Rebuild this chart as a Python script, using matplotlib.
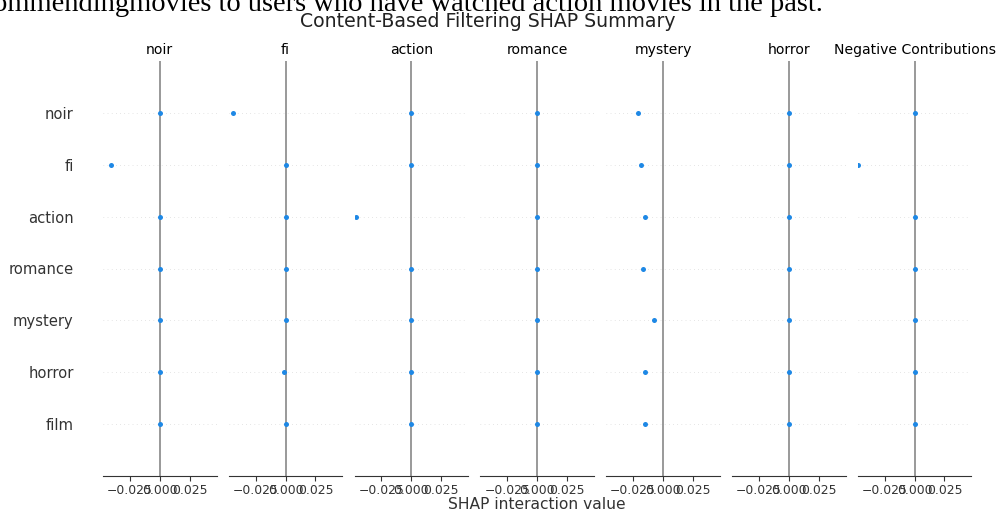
import matplotlib
matplotlib.use("Agg")
import matplotlib.pyplot as plt
import numpy as np

features = ["noir", "fi", "action", "romance", "mystery", "horror", "film"]  # top to bottom
titles = ["noir", "fi", "action", "romance", "mystery", "horror", "Negative Contributions"]

# SHAP interaction values per column (rows in the order of `features`)
col_noir = [0.0, -0.0405, 0.0, 0.0, 0.0, 0.0, 0.0]
col_fi = [-0.0438, 0.0, 0.0, 0.0, 0.0, -0.0014, 0.0]
col_action = [0.0, 0.0, -0.0461, 0.0, 0.0, 0.0, 0.0]
col_romance = [0.0, 0.0, 0.0, 0.0, 0.0, 0.0, 0.0]
col_mystery = [-0.0206, -0.0183, -0.0153, -0.0163, -0.0075, -0.0153, -0.0148]
col_horror = [0.0, 0.0, 0.0, 0.0, 0.0, 0.0, 0.0]
col_negative = [0.0, -0.0475, 0.0, 0.0, 0.0, 0.0, 0.0]
columns = [col_noir, col_fi, col_action, col_romance, col_mystery, col_horror, col_negative]

xlim_v = 0.0475
xticks = [-0.025, 0.0, 0.025]

W, H = 997, 513
fig = plt.figure(figsize=(W / 100, H / 100), dpi=100)

axis_color = "#333333"
blue = "#1E88E5"
n = len(features)
ypos = np.arange(n)[::-1]  # noir at top

left0 = 103 / W
step = 125.8 / W
width = 113.5 / W
bottom = (H - 476) / H
height = (476 - 61) / H

for i, (title, vals) in enumerate(zip(titles, columns)):
    ax = fig.add_axes([left0 + i * step, bottom, width, height])
    for y in ypos:
        ax.axhline(y=y, color="#cccccc", lw=0.5, dashes=(1, 5), zorder=-1)
    ax.axvline(x=0, color="#999999", lw=1.4, zorder=-1)
    ax.scatter(vals, ypos, color=blue, s=13, linewidth=0, zorder=3)
    ax.set_xlim(-xlim_v, xlim_v)
    ax.set_ylim(-1, n)
    ax.set_xticks(xticks)
    ax.set_xticklabels(["\u22120.025", "0.000", "0.025"])
    for s in ["top", "right", "left"]:
        ax.spines[s].set_visible(False)
    ax.spines["bottom"].set_color(axis_color)
    ax.spines["bottom"].set_linewidth(0.8)
    ax.tick_params("x", labelsize=8.9, color=axis_color, labelcolor=axis_color,
                   length=3.5, width=0.8, pad=2.5)
    if i == 0:
        ax.set_yticks(ypos)
        ax.set_yticklabels(features, fontsize=10.6, color=axis_color)
        ax.tick_params("y", length=0, pad=21)
    else:
        ax.set_yticks([])
    ax.set_title(title, fontsize=10.1, pad=5, color="black")
    if i == n // 2:
        ax.set_xlabel("SHAP interaction value", fontsize=11.2, color=axis_color, labelpad=0)

fig.text(488 / W, 1 - 27 / H, "Content-Based Filtering SHAP Summary", ha="center", va="baseline",
         fontsize=13.6, color="#222222")
fig.text(823 / W, 1 - 11 / H, "ommendingmovies to users who have watched action movies in the past.",
         ha="right", va="baseline", fontsize=20.5, family="Liberation Serif", color="black")

fig.savefig("out.png", dpi=100)
